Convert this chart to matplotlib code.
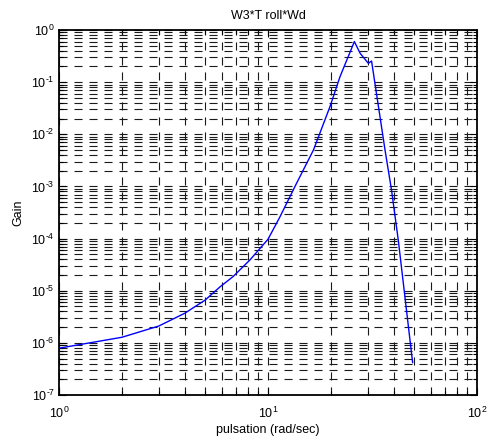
import numpy as np
import matplotlib
matplotlib.use("Agg")
import matplotlib.pyplot as plt
from matplotlib.ticker import FixedLocator, NullFormatter, FuncFormatter

plt.rcParams['font.family'] = ['Liberation Sans', 'DejaVu Sans']
plt.rcParams['mathtext.fontset'] = 'custom'
plt.rcParams['mathtext.rm'] = 'Liberation Sans'
plt.rcParams['mathtext.it'] = 'Liberation Sans:italic'
plt.rcParams['mathtext.bf'] = 'Liberation Sans:bold'
plt.rcParams['lines.scale_dashes'] = False

# Frequency response samples (rad/sec) and gain
pulsation = [1, 2, 3, 4, 5, 5.9, 6.8, 8.2, 10, 11.4, 13.7, 16.5, 19.8, 22.1,
             25.9, 27.6, 30.2, 31.3, 36.3, 39, 42, 49.2]
gain = [7.9e-7, 1.28e-6, 2.1e-6, 3.7e-6, 6.6e-6, 1.19e-5, 1.86e-5, 3.9e-5,
        9.7e-5, 2.6e-4, 1.15e-3, 5.0e-3, 3.4e-2, 0.127,
        0.60, 0.357, 0.23, 0.254, 5.0e-3, 8.5e-4, 9.4e-5, 4.2e-7]

title_text = "W3*T roll*Wd"
xlabel_text = "pulsation (rad/sec)"
ylabel_text = "Gain"

x_decades = [0, 1, 2]
y_decades = [-7, -6, -5, -4, -3, -2, -1, 0]


def pow10_label(v, pos):
    e = int(round(np.log10(v)))
    exp = (r'\text{-}%d' % -e) if e < 0 else '%d' % e
    return r'$\mathrm{10}^{%s}$' % exp


def minor_positions(decades):
    return [m * 10.0 ** d for d in decades[:-1] for m in range(2, 10)]


fig = plt.figure(figsize=(4.89, 4.43), dpi=100)
W, H = 489, 443
left, right, top, bottom = 59, 477, 30, 395
ax = fig.add_axes([left / W, 1 - bottom / H, (right - left) / W, (bottom - top) / H])

ax.plot(pulsation, gain, color=(0, 0, 1), linewidth=1.0, zorder=3)
ax.set_xscale('log')
ax.set_yscale('log')
ax.set_xlim(10.0 ** x_decades[0], 10.0 ** x_decades[-1])
ax.set_ylim(10.0 ** y_decades[0], 10.0 ** y_decades[-1])

for axis, decs in ((ax.xaxis, x_decades), (ax.yaxis, y_decades)):
    axis.set_major_locator(FixedLocator([10.0 ** d for d in decs]))
    axis.set_minor_locator(FixedLocator(minor_positions(decs)))
    axis.set_minor_formatter(NullFormatter())
    axis.set_major_formatter(FuncFormatter(pow10_label))

dash = (0, (5.8, 5.0))
ax.grid(True, which='both', color='#1a1a1a', linewidth=0.8, linestyle=dash)

ax.tick_params(which='both', direction='in', top=True, right=True,
               labelsize=9, color='black')
ax.tick_params(which='major', length=5, width=0.8)
ax.tick_params(axis='x', which='major', pad=8)
ax.tick_params(axis='y', which='major', pad=3)
ax.tick_params(which='minor', length=3, width=0.8)
for sp in ax.spines.values():
    sp.set_linewidth(1.3)
    sp.set_color('black')

ax.set_title(title_text, fontsize=9, pad=8)
ax.set_xlabel(xlabel_text, fontsize=9, labelpad=2)
ax.set_ylabel(ylabel_text, fontsize=9, labelpad=5)

fig.savefig("out.png", dpi=100)
